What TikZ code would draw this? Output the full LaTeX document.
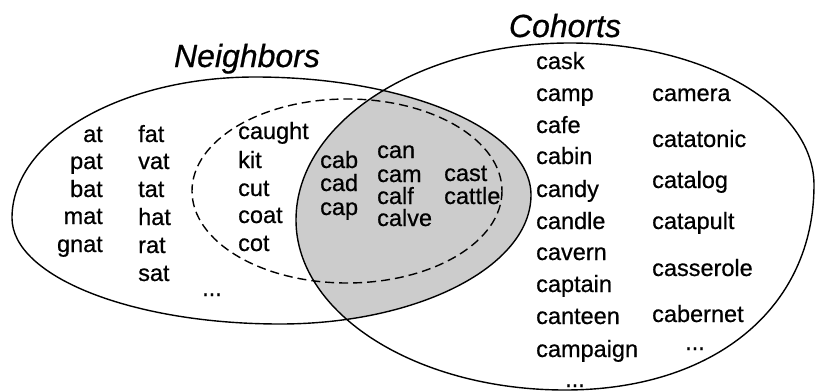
\documentclass[tikz,border=0pt]{standalone}
\usepackage{fontspec}
\setmainfont{Liberation Sans}
\newfontfamily\wordfont{Liberation Sans}[FakeBold=0.6]
\newfontfamily\titlefont{Liberation Sans}[FakeBold=0.6,UprightFont=*-Italic]
\begin{document}
\begin{tikzpicture}[x=1pt,y=-1pt,
  word/.style={font=\wordfont\fontsize{23.5}{26}\selectfont, inner sep=0pt, text height=12pt, text depth=0pt},
  rword/.style={word, anchor=east},
  lword/.style={word, anchor=west},
  dots/.style={font=\wordfont\fontsize{23.5}{26}\selectfont, inner sep=0pt, anchor=base},
  settitle/.style={font=\titlefont\fontsize{32}{36}\selectfont, inner sep=0pt, anchor=base},
  ring/.style={line width=1.4pt},
  dashring/.style={line width=1.4pt, dash pattern=on 9pt off 5pt},
]
\useasboundingbox (0,0) rectangle (815,391);
\def\neighborsshape{(12,218) .. controls (12,140.1) and (120.8,77) .. (255,77)
  .. controls (407.4,77) and (531,129.8) .. (531,195)
  .. controls (531,266.2) and (418.6,324) .. (280,324)
  .. controls (132,324) and (12,276.5) .. (12,218) -- cycle}
\def\cohortsshape{(296,220) .. controls (296,122.2) and (418.7,43) .. (570,43)
  .. controls (704.8,43) and (814,106.6) .. (814,185)
  .. controls (814,308) and (714.4,390) .. (565,390)
  .. controls (416.4,390) and (296,313.9) .. (296,220) -- cycle}
% shaded intersection
\begin{scope}
  \clip \neighborsshape;
  \fill[black!20] \cohortsshape;
\end{scope}
% outlines
\draw[ring] \neighborsshape;
\draw[ring] \cohortsshape;
\draw[dashring] (347,191) ellipse [x radius=155, y radius=92];
% titles
\node[settitle] (tn) at (247,67) {Neighbors};
\node[settitle] (tc) at (565,37) {Cohorts};
% neighbors column 1
\node[rword] (n1) at (103,136) {at};
\node[rword] (n2) at (103,163) {pat};
\node[rword] (n3) at (103,191) {bat};
\node[rword] (n4) at (103,218) {mat};
\node[rword] (n5) at (103,246) {gnat};
% column 2
\node[lword] (m1) at (138,136) {fat};
\node[lword] (m2) at (138,163) {vat};
\node[lword] (m3) at (138,191) {tat};
\node[lword] (m4) at (138,219) {hat};
\node[lword] (m5) at (138,247) {rat};
\node[lword] (m6) at (138,275) {sat};
\node[dots] (mdots) at (212,296) {...};
% dashed region
\node[lword] (d1) at (238,133) {caught};
\node[lword] (d2) at (238,162) {kit};
\node[lword] (d3) at (238,190) {cut};
\node[lword] (d4) at (238,217) {coat};
\node[lword] (d5) at (238,245) {cot};
% shaded
\node[lword] (s1) at (320,162) {cab};
\node[lword] (s2) at (320,185) {cad};
\node[lword] (s3) at (320,209) {cap};
\node[lword] (s4) at (377,152) {can};
\node[lword] (s5) at (377,176) {cam};
\node[lword] (s6) at (377,198) {calf};
\node[lword] (s7) at (377,220) {calve};
\node[lword] (s8) at (444,175) {cast};
\node[lword] (s9) at (444,198) {cattle};
% cohorts column 1
\node[lword] (c1) at (536,63) {cask};
\node[lword] (c2) at (536,95) {camp};
\node[lword] (c3) at (536,127) {cafe};
\node[lword] (c4) at (536,158) {cabin};
\node[lword] (c5) at (536,191) {candy};
\node[lword] (c6) at (536,223) {candle};
\node[lword] (c7) at (536,254) {cavern};
\node[lword] (c8) at (536,286) {captain};
\node[lword] (c9) at (536,318) {canteen};
\node[lword] (c10) at (536,351) {campaign};
\node[dots] (cdots1) at (575,387) {...};
% cohorts column 2
\node[lword] (k1) at (652,95) {camera};
\node[lword] (k2) at (652,141) {catatonic};
\node[lword] (k3) at (652,182) {catalog};
\node[lword] (k4) at (652,223) {catapult};
\node[lword] (k5) at (652,270) {casserole};
\node[lword] (k6) at (652,316) {cabernet};
\node[dots] (kdots) at (695,350) {...};
\end{tikzpicture}
\end{document}
